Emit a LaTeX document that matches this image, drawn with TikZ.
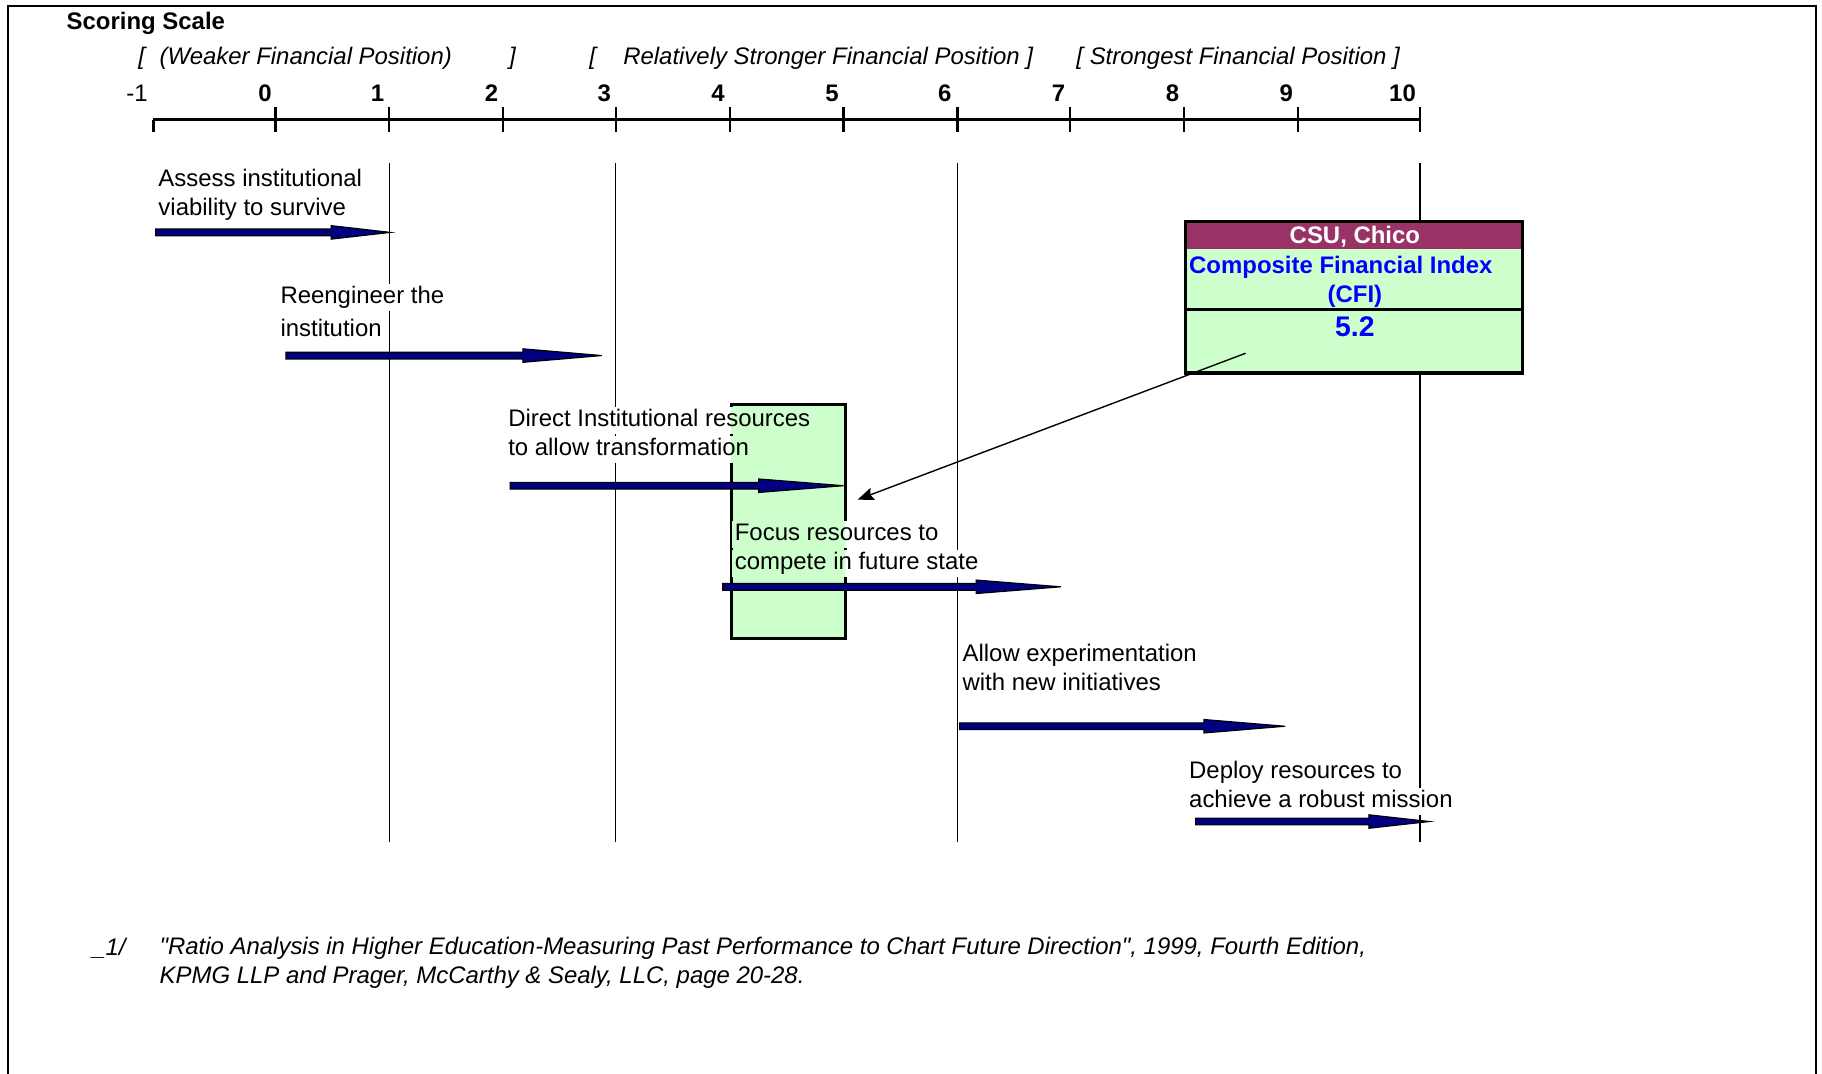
\documentclass[tikz,border=0pt]{standalone}
\usepackage{fontspec}
\setmainfont{Liberation Sans}
\usetikzlibrary{calc,arrows.meta}
\definecolor{navyfill}{RGB}{0,0,128}
\definecolor{plum}{RGB}{153,51,102}
\definecolor{palegreen}{RGB}{204,255,204}
\definecolor{cfiblue}{RGB}{0,0,255}
\pgfdeclarelayer{bg}
\pgfdeclarelayer{wbg}
\pgfdeclarelayer{gfill}
\pgfsetlayers{bg,wbg,gfill,main}
\tikzset{
  lbl/.style={anchor=west, font=\fontsize{10.3}{12}\selectfont, inner xsep=1pt, inner ysep=0.8pt, text height=7.5pt, text depth=2.3pt},
  ital/.style={anchor=west, font=\fontsize{10.3}{12}\selectfont\itshape, inner sep=0pt},
  numlbl/.style={font=\fontsize{10.3}{12}\selectfont\bfseries, inner sep=0pt},
  numreg/.style={font=\fontsize{10.3}{12}\selectfont, inner sep=0pt},
  vline/.style={line width=0.5pt},
  axisline/.style={line width=1.3pt},
  tickline/.style={line width=1pt},
  boxline/.style={line width=1.3pt},
  barrow/.style={fill=navyfill, draw=black, line width=0.5pt, line join=miter},
  thinarrow/.style={line width=0.6pt, -{Stealth[length=7pt,width=5.5pt,inset=1.2pt]}},
  cfibox/.style={draw, boxline, fill=palegreen, minimum width=145pt, minimum height=65pt, inner sep=0pt, outer sep=0pt, anchor=north west},
  cfititle/.style={font=\fontsize{10.3}{12}\selectfont\bfseries, text=white, inner sep=0pt},
  cfitext/.style={font=\fontsize{10.3}{12}\selectfont\bfseries, text=cfiblue, inner sep=0pt},
  cfival/.style={font=\fontsize{12.2}{14}\selectfont\bfseries, text=cfiblue, inner sep=0pt},
}
\newcommand\blockarrow[3]{%
  \draw[barrow] ($(#1)+(0,-2.9)$) -- ($(#2)+(-#3,-2.9)$) -- ($(#2)+(-#3,-5.8)$) -- (#2)
    -- ($(#2)+(-#3,5.8)$) -- ($(#2)+(-#3,2.9)$) -- ($(#1)+(0,2.9)$) -- cycle;}
\begin{document}
\begin{tikzpicture}[x=0.5pt,y=-0.5pt]
\useasboundingbox (0,0) rectangle (1568,924);
% frame
\draw[line width=1pt] (7,924) -- (7,5) -- (1563,5) -- (1563,924);
% title and ranges
\node[anchor=west, font=\fontsize{10.3}{12}\selectfont\bfseries, inner sep=0pt] (title) at (57,20) {Scoring Scale};
\node[numreg] (br1) at (122,50) {\itshape [};
\node[ital] (weak) at (137,50) {(Weaker Financial Position)};
\node[numreg] (br2) at (441,50) {\itshape ]};
\node[numreg] (br3) at (510,50) {\itshape [};
\node[ital] (rel) at (536,50) {Relatively Stronger Financial Position ]};
\node[ital] (strong) at (926,50) {[ Strongest Financial Position ]};
% numbers
\node[numreg] (nm1) at (118,80) {-1};
\foreach \v/\xx in {0/228,1/325,2/423,3/520,4/618,5/716,6/813,7/911,8/1009,9/1107,10/1207}
  \node[numlbl] (n\v) at (\xx,80) {\v};
% axis
\coordinate (axL) at (132,103);
\coordinate (axR) at (1222,103);
\draw[axisline] (axL) -- (axR);
\draw[tickline] (132,103) -- (132,114);
\foreach \xx in {237,335,433,530,628,726,824,921,1019,1117,1222}
  \draw[tickline] (\xx,92) -- (\xx,114);
% vertical guide lines and green box
\begin{pgfonlayer}{bg}
\foreach \xx in {335,530,824,1222}
  \draw[vline] (\xx,140) -- (\xx,725);
\node[draw, boxline, fill=palegreen, minimum width=49pt, minimum height=100.5pt, inner sep=0pt, anchor=north west] (gb) at (628,347) {};
\end{pgfonlayer}
% text lines
\node[lbl] (t1a) at (134,155) {Assess institutional};
\node[lbl] (t1b) at (134,180) {viability to survive};
\node[lbl] (t2a) at (239,256) {Reengineer the};
\node[lbl] (t2b) at (239,284) {institution};
\node[lbl] (t3a) at (435,362) {Direct Institutional resources};
\node[lbl] (t3b) at (435,387) {to allow transformation};
\node[lbl] (t4a) at (630,460) {Focus resources to};
\node[lbl] (t4b) at (630,485) {compete in future state};
\node[lbl] (t5a) at (826,564) {Allow experimentation};
\node[lbl] (t5b) at (826,589) {with new initiatives};
\node[lbl] (t6a) at (1021,665) {Deploy resources to};
\node[lbl] (t6b) at (1021,690) {achieve a robust mission};
\begin{pgfonlayer}{wbg}
\foreach \n in {t1a,t1b,t2a,t2b,t3a,t3b,t4a,t4b,t5a,t5b,t6a,t6b}
  \fill[white] (\n.south west) rectangle (\n.north east);
\end{pgfonlayer}
\begin{pgfonlayer}{gfill}
\begin{scope}
\clip ($(gb.south west)+(1,-1)$) rectangle ($(gb.north east)+(-1,1)$);
\foreach \n in {t3a,t3b,t4a,t4b}
  \fill[palegreen] (\n.south west) rectangle (\n.north east);
\end{scope}
\end{pgfonlayer}
% block arrows
\coordinate (a1s) at (134,200);  \coordinate (a1e) at (336,200);
\coordinate (a2s) at (246,306);  \coordinate (a2e) at (518,306);
\coordinate (a3s) at (439,418);  \coordinate (a3e) at (726,418);
\coordinate (a4s) at (622,505);  \coordinate (a4e) at (913,505);
\coordinate (a5s) at (826,625);  \coordinate (a5e) at (1106,625);
\coordinate (a6s) at (1029,707); \coordinate (a6e) at (1230,707);
\blockarrow{a1s}{a1e}{51}
\blockarrow{a2s}{a2e}{68}
\blockarrow{a3s}{a3e}{73}
\blockarrow{a4s}{a4e}{73}
\blockarrow{a5s}{a5e}{70}
\blockarrow{a6s}{a6e}{52}
% CFI box
\node[cfibox] (cfi) at (1020,191) {};
\fill[plum] (cfi.north west) rectangle ($(cfi.north east)+(0,23)$);
\draw[boxline] (cfi.north west) rectangle (cfi.south east);
\draw[boxline] (cfi.west |- 0,266) -- (cfi.east |- 0,266);
\node[cfititle] (cfit) at (1166,204) {CSU, Chico};
\node[cfitext, anchor=west] (cfic) at (1023,230) {Composite Financial Index};
\node[cfitext] (cfid) at (1166,255) {(CFI)};
\node[cfival] (cfiv) at (1166,281) {5.2};
% pointer arrow
\coordinate (pA) at (1072,304);
\coordinate (pB) at (738,430);
\draw[thinarrow] (pA) -- (pB);
% footnote
\node[ital] (fn0) at (79,816) {\_1/};
\node[ital] (fn1) at (137,816) {\textquotedbl Ratio Analysis in Higher Education-Measuring Past Performance to Chart Future Direction\textquotedbl, 1999, Fourth Edition,};
\node[ital] (fn2) at (137,841) {KPMG LLP and Prager, McCarthy \& Sealy, LLC, page 20-28.};
\end{tikzpicture}
\end{document}
